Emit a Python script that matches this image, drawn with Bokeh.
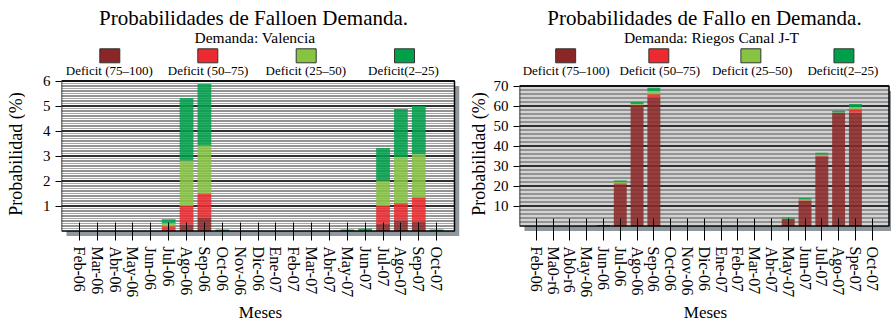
import numpy as np
from bokeh.plotting import figure
from bokeh.layouts import row
from bokeh.models import Range1d, FixedTicker, ColumnDataSource
from bokeh.core.properties import value
from bokeh.embed import file_html
from bokeh.resources import INLINE

FONT = "Liberation Serif"

# ---------------- data ----------------
meses_val = ["Feb-06", "Mar-06", "Abr-06", "May-06", "Jun-06", "Jul-06", "Ago-06",
             "Sep-06", "Oct-06", "Nov-06", "Dic-06", "Ene-07", "Feb-07", "Mar-07",
             "Abr-07", "May-07", "Jun-07", "Jul-07", "Ago-07", "Sep-07", "Oct-07"]
meses_rie = ["Feb-06", "Ma0-r6", "Ab0-r6", "May-06", "Jun-06", "Jul-06", "Ago-06",
             "Sep-06", "Oct-06", "Nov-06", "Dic-06", "Ene-07", "Feb-07", "Mar-07",
             "Abr-07", "May-07", "Jun-07", "Jul-07", "Ago-07", "Spe-07", "Oct-07"]

# Valencia (%)
val_d75 = [0, 0, 0, 0, 0, 0.00, 0.27, 0.55, 0, 0, 0, 0, 0, 0, 0, 0, 0, 0.29, 0.42, 0.36, 0]
val_d50 = [0, 0, 0, 0, 0, 0.19, 0.73, 0.95, 0, 0, 0, 0, 0, 0, 0, 0, 0, 0.71, 0.69, 0.99, 0]
val_d25 = [0, 0, 0, 0, 0, 0.12, 1.82, 1.92, 0, 0, 0, 0, 0, 0, 0, 0, 0, 1.02, 1.85, 1.72, 0]
val_d2 = [0, 0, 0, 0, 0, 0.16, 2.50, 2.46, 0.06, 0, 0, 0, 0, 0, 0, 0.06, 0.10, 1.30, 1.92, 1.93, 0.06]

# Riegos Canal J-T (%)
rie_d75 = [0, 0, 0, 0, 0.5, 20.9, 60.3, 64.3, 0, 0, 0, 0, 0, 0, 0, 3.5, 12.6, 34.7, 56.5, 56.6, 0]
rie_d50 = [0, 0, 0, 0, 0, 0.5, 0.3, 1.6, 0, 0, 0, 0, 0, 0, 0, 0.0, 0.3, 0.6, 0.1, 1.8, 0]
rie_d25 = [0, 0, 0, 0, 0, 0.6, 0.4, 1.6, 0, 0, 0, 0, 0, 0, 0, 0.2, 0.3, 0.4, 0.1, 1.0, 0]
rie_d2 = [0, 0, 0, 0, 0, 0.8, 1.0, 1.6, 0, 0, 0, 0, 0, 0, 0, 0.6, 0.8, 0.9, 0.9, 1.6, 0]

yticks_val = [1, 2, 3, 4, 5, 6]
yticks_rie = [10, 20, 30, 40, 50, 60, 70]

SERIES = ["d75", "d50", "d25", "d2"]
COLORS = ["#8B2626", "#EC2A2F", "#86C441", "#00A04B"]
LEG_LABELS = ["Deficit (75\u2013100)", "Deficit (50\u201375)", "Deficit (25\u201350)", "Deficit(2\u201325)"]
YLABEL = "Probabilidad (%)"

FIG_H = 326
FRAME_B = 236          # bottom of every frame (picture px)
BOTTOM_B = FIG_H - FRAME_B


def ylabel_fig(w, cx):
    p = figure(width=w, height=FIG_H, x_range=Range1d(0, w), y_range=Range1d(FRAME_B, 0),
               toolbar_location=None, output_backend="svg", title=None,
               min_border_left=0, min_border_right=0, min_border_top=0,
               min_border_bottom=BOTTOM_B, x_axis_location=None, y_axis_location=None)
    p.outline_line_color = None
    p.grid.visible = False
    p.text(x=[cx], y=[153.5], text=[YLABEL], angle=np.pi / 2, text_font=value(FONT),
           text_font_size="18px", text_align="center", text_baseline="middle",
           text_color="black")
    return p


def chart(labels, d75, d50, d25, d2, yticks, ymax, step, fig_w, left_b, frame_x0,
          frame_w, box_w, top_px, px_y, title, sub, title_x, sub_x, sq_x, lab_x):
    n = len(labels)
    xs = list(range(1, n + 1))
    px_x = box_w / (n + 1)
    xmax = n + 1
    x_end = frame_w / px_x
    y_end = ymax + top_px / px_y
    y_start = ymax - (FRAME_B - top_px) / px_y
    p = figure(width=fig_w, height=FIG_H, x_range=Range1d(0, x_end),
               y_range=Range1d(y_start, y_end), toolbar_location=None,
               output_backend="svg", title=None,
               min_border_left=left_b, min_border_top=0,
               min_border_right=fig_w - left_b - frame_w,
               min_border_bottom=BOTTOM_B)
    p.outline_line_color = None
    p.grid.visible = False
    # picture-pixel ranges for the heading block
    p.extra_x_ranges = {"px": Range1d(frame_x0, frame_x0 + frame_w)}
    p.extra_y_ranges = {"py": Range1d(FRAME_B, 0)}

    # heading: title, subtitle, legend
    p.text(x=[title_x], y=[17.0], text=[title], text_font=value(FONT),
           text_font_size="21px", text_align="center", text_baseline="middle",
           text_color="black", x_range_name="px", y_range_name="py")
    p.text(x=[sub_x], y=[37.0], text=[sub], text_font=value(FONT),
           text_font_size="15.5px", text_align="center", text_baseline="middle",
           text_color="black", x_range_name="px", y_range_name="py")
    p.quad(left=[x - 10 for x in sq_x], right=[x + 10 for x in sq_x],
           top=[48.3] * 4, bottom=[62.3] * 4, fill_color=COLORS,
           line_color="#333333", line_width=1, x_range_name="px", y_range_name="py")
    p.text(x=lab_x, y=[69.5] * 4, text=LEG_LABELS, text_font=value(FONT),
           text_font_size="13px", text_align="center", text_baseline="middle",
           text_color="black", x_range_name="px", y_range_name="py")

    sh = 5
    # shadow
    p.quad(left=[sh / px_x], right=[xmax + sh / px_x], bottom=[-sh / px_y],
           top=[ymax - sh / px_y], fill_color="#8E979D", line_color=None)
    # box
    p.quad(left=[0], right=[xmax], bottom=[0], top=[ymax], fill_color="white",
           line_color=None)
    # grid lines (alternating black / gray)
    k = np.arange(1, int(round(ymax / step)))
    ys = k * step
    gray = [y for i, y in zip(k, ys) if i % 2 == 1]
    black = [y for i, y in zip(k, ys) if i % 2 == 0]
    p.segment(x0=0, x1=xmax, y0=gray, y1=gray, line_color="#A6A6A6", line_width=1)
    p.segment(x0=0, x1=xmax, y0=black, y1=black, line_color="#262626", line_width=1)
    p.segment(x0=0, x1=xmax, y0=yticks, y1=yticks, line_color="#111111", line_width=1.5)

    src = ColumnDataSource(dict(x=xs, d75=d75, d50=d50, d25=d25, d2=d2))
    p.vbar_stack(SERIES, x="x", width=0.77, fill_color=COLORS, line_color=None,
                 fill_alpha=0.86, source=src)
    # box border
    p.quad(left=[0], right=[xmax], bottom=[0], top=[ymax], fill_color=None,
           line_color="black", line_width=1.5)

    box_bottom_px = top_px + ymax * px_y
    xa = p.xaxis[0]
    xa.ticker = FixedTicker(ticks=xs)
    xa.major_label_overrides = {i: l for i, l in zip(xs, labels)}
    xa.major_label_orientation = -np.pi / 2
    xa.axis_line_color = None
    xa.major_tick_in = int(round(FRAME_B - box_bottom_px + 8))
    xa.major_tick_out = 4
    xa.minor_tick_line_color = None
    xa.major_tick_line_color = "black"
    xa.major_label_standoff = 6
    xa.major_label_text_font = FONT
    xa.major_label_text_font_size = "16px"
    xa.major_label_text_color = "black"
    xa.axis_label = "Meses"
    xa.axis_label_text_font = FONT
    xa.axis_label_text_font_size = "17px"
    xa.axis_label_text_font_style = "normal"
    xa.axis_label_text_color = "black"
    xa.axis_label_standoff = 3

    ya = p.yaxis[0]
    ya.ticker = FixedTicker(ticks=yticks)
    ya.axis_line_color = None
    ya.major_tick_in = 0
    ya.major_tick_out = 6
    ya.minor_tick_line_color = None
    ya.major_tick_line_color = "black"
    ya.major_label_standoff = 5
    ya.major_label_text_font = FONT
    ya.major_label_text_font_size = "15px"
    ya.major_label_text_color = "black"
    return p


yl1 = ylabel_fig(25, 15)
cL = chart(meses_val, val_d75, val_d50, val_d25, val_d2, yticks_val, 6, 0.1,
           440, 36, 61, 398, 393, 80.5, 25.0,
           "Probabilidades de Falloen Demanda.", "Demanda: Valencia",
           253, 254.5, [109.3, 207.3, 305.7, 404.0], [108.8, 207.5, 305.3, 403.0])
yl2 = ylabel_fig(25, 13)
cR = chart(meses_rie, rie_d75, rie_d50, rie_d25, rie_d2, yticks_rie, 70, 1.0,
           401, 28, 518, 373, 370.5, 85.5, 2.0,
           "Probabilidades de Fallo en Demanda.", "Demanda: Riegos Canal J-T",
           703.5, 710.5, [564.3, 657.7, 750.0, 843.3], [564.8, 658.7, 751.3, 842.2])

layout = row(yl1, cL, yl2, cR)
open("out.html", "w").write(file_html(layout, INLINE))
